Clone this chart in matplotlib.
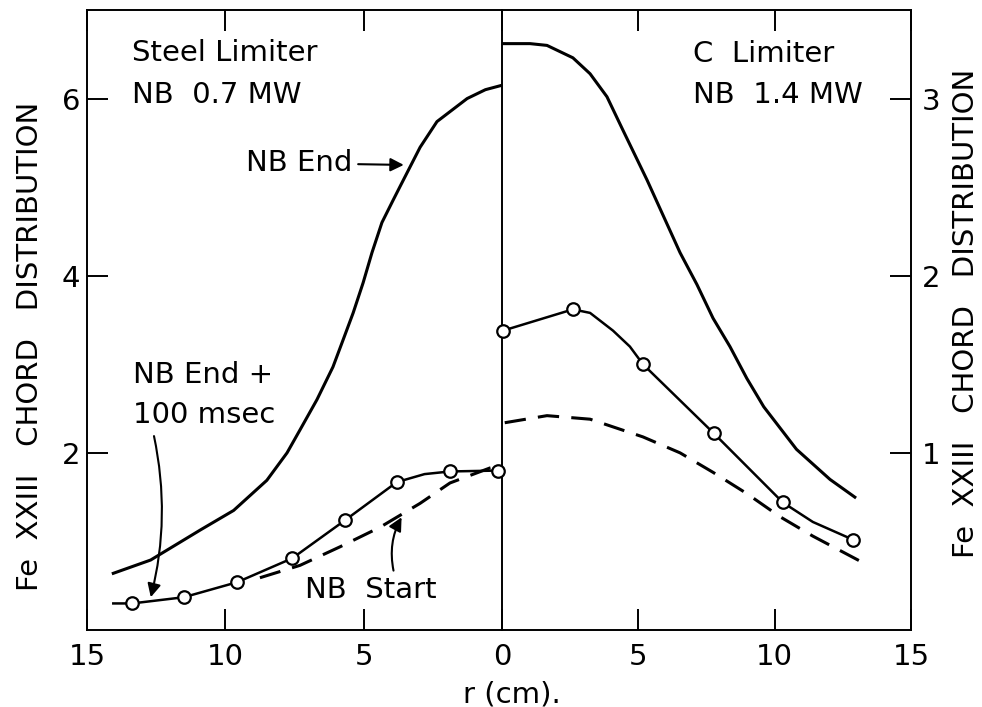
import numpy as np
import matplotlib.pyplot as plt

plt.rcParams['font.family'] = 'DejaVu Sans'

# Steel limiter, NB 0.7 MW  (r in cm, left scale)
steel_end_r = [14.05, 12.7, 10.9, 9.7, 8.5, 7.77, 7.3, 6.69, 6.11, 5.75, 5.38, 5.02, 4.70, 4.34, 3.94,
               3.68, 2.96, 2.35, 1.26, 0.6, 0.0]
steel_end_v = [0.64, 0.79, 1.13, 1.35, 1.69, 2.00, 2.26, 2.60, 2.97, 3.27, 3.58, 3.92, 4.26, 4.60, 4.85,
               5.01, 5.45, 5.74, 6.00, 6.10, 6.15]

steel_late_r = [14.05, 13.37, 11.5, 9.57, 7.58, 5.67, 3.8, 2.8, 1.88, 0.14]
steel_late_v = [0.30, 0.30, 0.37, 0.54, 0.81, 1.24, 1.67, 1.76, 1.79, 1.80]
steel_pts_r = [13.37, 11.5, 9.57, 7.58, 5.67, 3.8, 1.88, 0.14]
steel_pts_v = [0.30, 0.37, 0.54, 0.81, 1.24, 1.67, 1.79, 1.80]

steel_start_r = [8.75, 7.3, 5.85, 4.41, 2.96, 1.88, 0.43, 0.0]
steel_start_v = [0.59, 0.73, 0.94, 1.16, 1.43, 1.66, 1.83, 1.86]

# C limiter, NB 1.4 MW  (right scale)
c_end_r = [0.0, 1.03, 1.65, 2.6, 3.23, 3.85, 4.44, 5.32, 6.53, 7.15, 7.74, 8.36, 8.98, 9.6, 10.8, 12.03, 12.94]
c_end_v = [3.31, 3.31, 3.30, 3.23, 3.14, 3.01, 2.82, 2.54, 2.13, 1.95, 1.76, 1.60, 1.42, 1.26, 1.02, 0.85, 0.75]

c_late_r = [0.04, 2.6, 3.23, 4.07, 4.69, 5.17, 7.77, 10.3, 11.4, 12.87]
c_late_v = [1.69, 1.81, 1.79, 1.69, 1.60, 1.50, 1.11, 0.72, 0.61, 0.51]
c_pts_r = [0.04, 2.6, 5.17, 7.77, 10.3, 12.87]
c_pts_v = [1.69, 1.81, 1.50, 1.11, 0.72, 0.51]

c_start_r = [0.1, 1.65, 3.23, 5.17, 6.53, 7.74, 8.98, 10.19, 11.4, 13.24]
c_start_v = [1.17, 1.21, 1.19, 1.09, 1.00, 0.89, 0.77, 0.64, 0.53, 0.38]

fs = 21
fig = plt.figure(figsize=(9.82, 7.07), dpi=100)
axl = fig.add_axes([0.0886, 0.1089, 0.4226, 0.877])
axr = fig.add_axes([0.5112, 0.1089, 0.4165, 0.877])
axr.patch.set_visible(False)

# left panel
axl.plot(steel_end_r, steel_end_v, 'k-', lw=2.2)
axl.plot(steel_late_r, steel_late_v, 'k-', lw=1.8)
axl.plot(steel_pts_r, steel_pts_v, 'o', ms=9, mfc='white', mec='k', mew=1.6, clip_on=False, zorder=5)
axl.plot(steel_start_r, steel_start_v, 'k', lw=2.2, dashes=(7, 4))
axl.set_xlim(15, 0)
axl.set_ylim(0, 7)
axl.set_xticks([15, 10, 5])
axl.set_yticks([2, 4, 6])
axl.tick_params(axis='x', direction='in', top=True, length=15, width=1.4, labelsize=fs, pad=9)
axl.tick_params(axis='y', direction='in', length=15, width=1.4, labelsize=fs, pad=5)

axl.text(13.37, 6.51, 'Steel Limiter', fontsize=fs, va='center')
axl.text(13.37, 6.04, 'NB  0.7 MW', fontsize=fs, va='center')
axl.annotate('NB End', xy=(3.45, 5.25), xytext=(5.4, 5.27), fontsize=fs, ha='right', va='center',
             arrowprops=dict(arrowstyle='-|>', color='k', lw=1.5, mutation_scale=20))
axl.text(13.34, 2.88, 'NB End +', fontsize=fs, va='center')
axl.text(13.34, 2.43, '100 msec', fontsize=fs, va='center')
axl.annotate('', xy=(12.72, 0.34), xytext=(12.6, 2.22),
             arrowprops=dict(arrowstyle='-|>', color='k', lw=1.5, mutation_scale=20,
                             connectionstyle='arc3,rad=-0.12'))
axl.text(7.12, 0.45, 'NB  Start', fontsize=fs, va='center')
axl.annotate('', xy=(3.58, 1.30), xytext=(3.9, 0.64),
             arrowprops=dict(arrowstyle='-|>', color='k', lw=1.5, mutation_scale=20,
                             connectionstyle='arc3,rad=-0.2'))

# right panel
axr.plot(c_end_r, c_end_v, 'k-', lw=2.2)
axr.plot(c_late_r, c_late_v, 'k-', lw=1.8)
axr.plot(c_pts_r, c_pts_v, 'o', ms=9, mfc='white', mec='k', mew=1.6, clip_on=False, zorder=5)
axr.plot(c_start_r, c_start_v, 'k', lw=2.2, dashes=(7, 4))
axr.set_xlim(0, 15)
axr.set_ylim(0, 3.5)
axr.set_xticks([0, 5, 10, 15])
axr.set_yticks([1, 2, 3])
axr.yaxis.tick_right()
axr.spines['left'].set_visible(False)
axr.tick_params(axis='x', direction='in', top=True, length=15, width=1.4, labelsize=fs, pad=9)
axr.tick_params(axis='y', direction='in', length=15, width=1.4, labelsize=fs, pad=8)

axr.text(7.0, 3.25, 'C  Limiter', fontsize=fs, va='center')
axr.text(7.0, 3.02, 'NB  1.4 MW', fontsize=fs, va='center')

for ax in (axl, axr):
    for s in ax.spines.values():
        s.set_linewidth(1.4)

ylab = 'Fe  XXIII   CHORD   DISTRIBUTION'
fig.text(30 / 982, 1 - 346 / 707, ylab, rotation=90, fontsize=fs, ha='center', va='center')
fig.text(966 / 982, 1 - 313 / 707, ylab, rotation=90, fontsize=fs, ha='center', va='center')
fig.text(512 / 982, 1 - 694 / 707, 'r (cm).', fontsize=fs, ha='center', va='center')

fig.savefig('out.png', dpi=100)
